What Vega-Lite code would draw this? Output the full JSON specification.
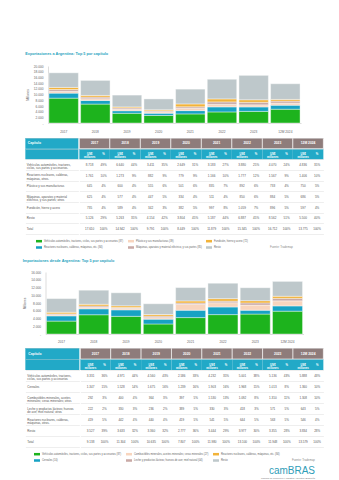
{
 "$schema": "https://vega.github.io/schema/vega-lite/v6.json",
 "padding": {"top": 52, "left": 22, "right": 20, "bottom": 0},
 "background": "white",
 "center": true,
 "spacing": 4,
 "resolve": {"scale": {"color": "independent"}, "legend": {"color": "independent"}},
 "datasets": {
  "years": [{"a":"2017","f1":"h1","f2":"h2"},{"a":"2018","f1":"h1","f2":"h2"},{"a":"2019","f1":"h1","f2":"h2"},{"a":"2020","f1":"h1","f2":"h2"},{"a":"2021","f1":"h1","f2":"h2"},{"a":"2022","f1":"h1","f2":"h2"},{"a":"2023","f1":"h1","f2":"h2"},{"a":"12M 2024","f1":"h1","f2":"h2"}],
  "expCat": [
   {"c":"Vehículos","n":1,"lab":"Vehículos automóviles, tractores,|ciclos, sus partes y accesorios.","leg":"Vehículos automóviles, tractores, ciclos, sus partes y accesorios (87)"},
   {"c":"Reactores","n":2,"lab":"Reactores nucleares, calderas,|máquinas, otros.","leg":"Reactores nucleares, calderas, máquinas, etc. (84)"},
   {"c":"Plásticos","n":3,"lab":"Plástico y sus manufacturas","leg":"Plástico y sus manufacturas (39)"},
   {"c":"Máquinas","n":4,"lab":"Máquinas, aparatos y material|eléctrico, y sus partes; otros","leg":"Máquinas, aparatos y material eléctrico, y sus partes (85)"},
   {"c":"Fundición","n":5,"lab":"Fundición, hierro y acero","leg":"Fundición, hierro y acero (72)"},
   {"c":"Resto","n":6,"lab":"Resto","leg":"Resto"},
   {"c":"Total","n":7,"lab":"Total","leg":"Total"}
  ],
  "impCat": [
   {"c":"Vehículos","n":1,"lab":"Vehículos automóviles, tractores,|ciclos, sus partes y accesorios","leg":"Vehículos automóviles, tractores, ciclos, sus partes y accesorios (87)"},
   {"c":"Cereales","n":2,"lab":"Cereales","leg":"Cereales (10)"},
   {"c":"Combustibles","n":3,"lab":"Combustibles minerales, aceites|minerales; ceras minerales; otros","leg":"Combustibles minerales, aceites minerales; ceras minerales (27)"},
   {"c":"Leche","n":4,"lab":"Leche y productos lácteos; huevos|de ave; miel natural; otros","leg":"Leche y productos lácteos; huevos de ave; miel natural (04)"},
   {"c":"Reactores","n":5,"lab":"Reactores nucleares, calderas,|máquinas, otros.","leg":"Reactores nucleares, calderas, máquinas, etc. (84)"},
   {"c":"Resto","n":6,"lab":"Resto","leg":"Resto"},
   {"c":"Total","n":7,"lab":"Total","leg":"Total"}
  ],
  "exp": [
   {"a":"2017","c":"Vehículos","usd":8718,"pct":0.49},{"a":"2017","c":"Reactores","usd":1761,"pct":0.10},{"a":"2017","c":"Plásticos","usd":645,"pct":0.04},{"a":"2017","c":"Máquinas","usd":625,"pct":0.04},{"a":"2017","c":"Fundición","usd":735,"pct":0.04},{"a":"2017","c":"Resto","usd":5126,"pct":0.29},{"a":"2017","c":"Total","usd":17610,"pct":1},
   {"a":"2018","c":"Vehículos","usd":6640,"pct":0.44},{"a":"2018","c":"Reactores","usd":1273,"pct":0.09},{"a":"2018","c":"Plásticos","usd":600,"pct":0.04},{"a":"2018","c":"Máquinas","usd":577,"pct":0.04},{"a":"2018","c":"Fundición","usd":589,"pct":0.04},{"a":"2018","c":"Resto","usd":5263,"pct":0.35},{"a":"2018","c":"Total","usd":14942,"pct":1},
   {"a":"2019","c":"Vehículos","usd":3411,"pct":0.35},{"a":"2019","c":"Reactores","usd":882,"pct":0.09},{"a":"2019","c":"Plásticos","usd":555,"pct":0.06},{"a":"2019","c":"Máquinas","usd":447,"pct":0.05},{"a":"2019","c":"Fundición","usd":342,"pct":0.03},{"a":"2019","c":"Resto","usd":4154,"pct":0.42},{"a":"2019","c":"Total","usd":9791,"pct":1},
   {"a":"2020","c":"Vehículos","usd":2649,"pct":0.31},{"a":"2020","c":"Reactores","usd":779,"pct":0.09},{"a":"2020","c":"Plásticos","usd":501,"pct":0.06},{"a":"2020","c":"Máquinas","usd":334,"pct":0.04},{"a":"2020","c":"Fundición","usd":382,"pct":0.05},{"a":"2020","c":"Resto","usd":3804,"pct":0.45},{"a":"2020","c":"Total","usd":8449,"pct":1},
   {"a":"2021","c":"Vehículos","usd":3183,"pct":0.27},{"a":"2021","c":"Reactores","usd":1166,"pct":0.10},{"a":"2021","c":"Plásticos","usd":835,"pct":0.07},{"a":"2021","c":"Máquinas","usd":511,"pct":0.04},{"a":"2021","c":"Fundición","usd":997,"pct":0.08},{"a":"2021","c":"Resto","usd":5187,"pct":0.44},{"a":"2021","c":"Total","usd":11879,"pct":1},
   {"a":"2022","c":"Vehículos","usd":3880,"pct":0.25},{"a":"2022","c":"Reactores","usd":1777,"pct":0.12},{"a":"2022","c":"Plásticos","usd":892,"pct":0.06},{"a":"2022","c":"Máquinas","usd":850,"pct":0.06},{"a":"2022","c":"Fundición","usd":1059,"pct":0.07},{"a":"2022","c":"Resto","usd":6887,"pct":0.45},{"a":"2022","c":"Total","usd":15345,"pct":1},
   {"a":"2023","c":"Vehículos","usd":4070,"pct":0.24},{"a":"2023","c":"Reactores","usd":1567,"pct":0.09},{"a":"2023","c":"Plásticos","usd":733,"pct":0.04},{"a":"2023","c":"Máquinas","usd":884,"pct":0.05},{"a":"2023","c":"Fundición","usd":896,"pct":0.05},{"a":"2023","c":"Resto","usd":8562,"pct":0.51},{"a":"2023","c":"Total","usd":16712,"pct":1},
   {"a":"12M 2024","c":"Vehículos","usd":4836,"pct":0.35},{"a":"12M 2024","c":"Reactores","usd":1406,"pct":0.10},{"a":"12M 2024","c":"Plásticos","usd":750,"pct":0.05},{"a":"12M 2024","c":"Máquinas","usd":686,"pct":0.05},{"a":"12M 2024","c":"Fundición","usd":597,"pct":0.04},{"a":"12M 2024","c":"Resto","usd":5500,"pct":0.40},{"a":"12M 2024","c":"Total","usd":13775,"pct":1}
  ],
  "imp": [
   {"a":"2017","c":"Vehículos","usd":3331,"pct":0.36},{"a":"2017","c":"Cereales","usd":1347,"pct":0.15},{"a":"2017","c":"Combustibles","usd":292,"pct":0.03},{"a":"2017","c":"Leche","usd":222,"pct":0.02},{"a":"2017","c":"Reactores","usd":419,"pct":0.05},{"a":"2017","c":"Resto","usd":3527,"pct":0.39},{"a":"2017","c":"Total","usd":9138,"pct":1},
   {"a":"2018","c":"Vehículos","usd":4971,"pct":0.44},{"a":"2018","c":"Cereales","usd":1528,"pct":0.14},{"a":"2018","c":"Combustibles","usd":400,"pct":0.04},{"a":"2018","c":"Leche","usd":330,"pct":0.03},{"a":"2018","c":"Reactores","usd":442,"pct":0.04},{"a":"2018","c":"Resto","usd":3633,"pct":0.32},{"a":"2018","c":"Total","usd":11304,"pct":1},
   {"a":"2019","c":"Vehículos","usd":4560,"pct":0.43},{"a":"2019","c":"Cereales","usd":1675,"pct":0.16},{"a":"2019","c":"Combustibles","usd":364,"pct":0.03},{"a":"2019","c":"Leche","usd":236,"pct":0.02},{"a":"2019","c":"Reactores","usd":440,"pct":0.04},{"a":"2019","c":"Resto","usd":3360,"pct":0.32},{"a":"2019","c":"Total","usd":10635,"pct":1},
   {"a":"2020","c":"Vehículos","usd":2586,"pct":0.33},{"a":"2020","c":"Cereales","usd":1239,"pct":0.16},{"a":"2020","c":"Combustibles","usd":397,"pct":0.05},{"a":"2020","c":"Leche","usd":389,"pct":0.05},{"a":"2020","c":"Reactores","usd":419,"pct":0.05},{"a":"2020","c":"Resto","usd":2777,"pct":0.36},{"a":"2020","c":"Total","usd":7807,"pct":1},
   {"a":"2021","c":"Vehículos","usd":4232,"pct":0.35},{"a":"2021","c":"Cereales","usd":1903,"pct":0.16},{"a":"2021","c":"Combustibles","usd":1530,"pct":0.13},{"a":"2021","c":"Leche","usd":330,"pct":0.03},{"a":"2021","c":"Reactores","usd":541,"pct":0.05},{"a":"2021","c":"Resto","usd":3444,"pct":0.29},{"a":"2021","c":"Total","usd":11980,"pct":1},
   {"a":"2022","c":"Vehículos","usd":5001,"pct":0.38},{"a":"2022","c":"Cereales","usd":1968,"pct":0.15},{"a":"2022","c":"Combustibles","usd":1092,"pct":0.08},{"a":"2022","c":"Leche","usd":418,"pct":0.03},{"a":"2022","c":"Reactores","usd":644,"pct":0.05},{"a":"2022","c":"Resto","usd":3977,"pct":0.30},{"a":"2022","c":"Total","usd":13100,"pct":1},
   {"a":"2023","c":"Vehículos","usd":5136,"pct":0.43},{"a":"2023","c":"Cereales","usd":1013,"pct":0.08},{"a":"2023","c":"Combustibles","usd":1310,"pct":0.11},{"a":"2023","c":"Leche","usd":571,"pct":0.05},{"a":"2023","c":"Reactores","usd":563,"pct":0.05},{"a":"2023","c":"Resto","usd":3355,"pct":0.28},{"a":"2023","c":"Total","usd":11948,"pct":1},
   {"a":"12M 2024","c":"Vehículos","usd":5888,"pct":0.43},{"a":"12M 2024","c":"Cereales","usd":1360,"pct":0.10},{"a":"12M 2024","c":"Combustibles","usd":1308,"pct":0.10},{"a":"12M 2024","c":"Leche","usd":643,"pct":0.05},{"a":"12M 2024","c":"Reactores","usd":546,"pct":0.04},{"a":"12M 2024","c":"Resto","usd":3834,"pct":0.28},{"a":"12M 2024","c":"Total","usd":13579,"pct":1}
  ]
 },
 "vconcat": [
  {
   "title": {"text": "Exportaciones a Argentina: Top 5 por capítulo", "anchor": "start", "fontSize": 3.8, "color": "#27A3BE", "fontWeight": "bold", "offset": 8},
   "width": 253, "height": 57,
   "data": {"name": "exp"},
   "transform": [{"filter": "datum.c !== 'Total'"}, {"lookup": "c", "from": {"data": {"name": "expCat"}, "key": "c", "fields": ["n"]}}],
   "mark": {"type": "bar", "stroke": "white", "strokeWidth": 0.4},
   "encoding": {
    "x": {"field": "a", "type": "nominal", "sort": ["2017","2018","2019","2020","2021","2022","2023","12M 2024"], "scale": {"paddingInner": 0.07, "paddingOuter": 0.03}, "axis": {"title": null, "labelFontSize": 3.2, "labelColor": "#666", "ticks": false, "domainColor": "#bbb", "domainWidth": 0.5, "labelPadding": 6, "labelAngle": 0}},
    "y": {"field": "usd", "type": "quantitative", "stack": "zero", "scale": {"domain": [0, 20000], "nice": false}, "axis": {"values": [0,2000,4000,6000,8000,10000,12000,14000,16000,18000,20000], "format": ",d", "labelExpr": "datum.value === 0 ? '-' : datum.label", "labelFontSize": 3.2, "labelColor": "#666", "grid": false, "ticks": false, "domainColor": "#bbb", "domainWidth": 0.5, "title": "Millones", "titleFontSize": 3.2, "titleFontWeight": "normal", "titleColor": "#666", "labelPadding": 5, "titlePadding": 4}},
    "color": {"field": "c", "type": "nominal", "scale": {"domain": ["Vehículos","Reactores","Plásticos","Máquinas","Fundición","Resto"], "range": ["#1DB31D","#17A2C4","#F8D5BE","#C9A9A6","#F2B33A","#BEC8CB"]}, "legend": null},
    "order": {"field": "n", "type": "quantitative", "sort": "ascending"}
   }
  },
  {
   "spacing": 0,
   "hconcat": [
    {
     "width": 53, "height": 96,
     "layer": [
      {"data": {"values": [{"f": "h1"}, {"f": "h2"}]}, "mark": {"type": "rect", "color": "#22A9C7"},
       "encoding": {"y": {"field": "f", "type": "nominal", "scale": {"domain": ["h1","h2","Vehículos","Reactores","Plásticos","Máquinas","Fundición","Resto","Total"], "paddingInner": 0, "paddingOuter": 0}, "axis": {"grid": true, "tickBand": "extent", "gridColor": "#d5d5d5", "gridWidth": 0.4, "labels": false, "ticks": false, "domain": false, "title": null}}}},
      {"data": {"values": [{"f": "h1", "t": "Capítulo"}]}, "mark": {"type": "text", "align": "left", "dx": -24, "color": "white", "fontWeight": "bold", "fontSize": 3.3},
       "encoding": {"y": {"field": "f", "type": "nominal"}, "text": {"field": "t"}}},
      {"data": {"name": "expCat"}, "mark": {"type": "text", "align": "left", "dx": -25, "fontSize": 3, "color": "#555", "lineBreak": "|", "lineHeight": 3.6},
       "encoding": {"y": {"field": "c", "type": "nominal"}, "text": {"field": "lab"}}}
     ]
    },
    {
     "width": 244, "height": 96,
     "layer": [
      {"data": {"name": "years"}, "mark": {"type": "rect", "color": "#22A9C7"},
       "encoding": {"x": {"field": "a", "type": "nominal", "sort": ["2017","2018","2019","2020","2021","2022","2023","12M 2024"], "scale": {"paddingInner": 0, "paddingOuter": 0}, "axis": null}, "y": {"field": "f2", "type": "nominal", "scale": {"domain": ["h1","h2","Vehículos","Reactores","Plásticos","Máquinas","Fundición","Resto","Total"], "paddingInner": 0, "paddingOuter": 0}, "axis": {"grid": true, "tickBand": "extent", "gridColor": "#d5d5d5", "gridWidth": 0.4, "labels": false, "ticks": false, "domain": false, "title": null}}}},
      {"data": {"name": "years"}, "mark": {"type": "rect", "color": "#8E7C7B", "stroke": "white", "strokeWidth": 0.6},
       "encoding": {"x": {"field": "a", "type": "nominal", "sort": ["2017","2018","2019","2020","2021","2022","2023","12M 2024"], "axis": null}, "y": {"field": "f1", "type": "nominal"}}},
      {"data": {"name": "years"}, "mark": {"type": "text", "color": "white", "fontWeight": "bold", "fontSize": 3.3},
       "encoding": {"x": {"field": "a", "type": "nominal", "sort": ["2017","2018","2019","2020","2021","2022","2023","12M 2024"], "axis": null}, "y": {"field": "f1", "type": "nominal"}, "text": {"field": "a"}}},
      {"data": {"name": "years"}, "mark": {"type": "text", "color": "white", "fontWeight": "bold", "fontSize": 2.8, "lineBreak": "|", "lineHeight": 3.2, "dx": -5},
       "encoding": {"x": {"field": "a", "type": "nominal", "sort": ["2017","2018","2019","2020","2021","2022","2023","12M 2024"], "axis": null}, "y": {"field": "f2", "type": "nominal"}, "text": {"value": "US$|millones"}}},
      {"data": {"name": "years"}, "mark": {"type": "text", "color": "white", "fontWeight": "bold", "fontSize": 2.8, "dx": 9},
       "encoding": {"x": {"field": "a", "type": "nominal", "sort": ["2017","2018","2019","2020","2021","2022","2023","12M 2024"], "axis": null}, "y": {"field": "f2", "type": "nominal"}, "text": {"value": "%"}}},
      {"data": {"name": "exp"}, "mark": {"type": "text", "color": "#555", "fontSize": 3, "dx": -5},
       "encoding": {"x": {"field": "a", "type": "nominal", "sort": ["2017","2018","2019","2020","2021","2022","2023","12M 2024"], "axis": null}, "y": {"field": "c", "type": "nominal"}, "text": {"field": "usd", "type": "quantitative", "format": ",d"}}},
      {"data": {"name": "exp"}, "mark": {"type": "text", "color": "#555", "fontSize": 3, "dx": 9},
       "encoding": {"x": {"field": "a", "type": "nominal", "sort": ["2017","2018","2019","2020","2021","2022","2023","12M 2024"], "axis": null}, "y": {"field": "c", "type": "nominal"}, "text": {"field": "pct", "type": "quantitative", "format": ".0%"}}}
     ]
    }
   ]
  },
  {
   "width": 277, "height": 3,
   "data": {"name": "expCat"},
   "transform": [{"filter": "datum.c !== 'Total'"}],
   "mark": {"type": "square", "opacity": 0},
   "encoding": {"color": {"field": "leg", "type": "nominal",
     "scale": {"domain": ["Vehículos automóviles, tractores, ciclos, sus partes y accesorios (87)", "Plástico y sus manufacturas (39)", "Fundición, hierro y acero (72)", "Reactores nucleares, calderas, máquinas, etc. (84)", "Máquinas, aparatos y material eléctrico, y sus partes (85)", "Resto"],
               "range": ["#1DB31D", "#F8D5BE", "#F2B33A", "#17A2C4", "#C9A9A6", "#BEC8CB"]},
     "legend": {"orient": "top", "columns": 3, "title": "Fuente: Trademap", "titleOrient": "right", "titleAnchor": "end", "titleFontSize": 2.8, "titleFontWeight": "normal", "titleColor": "#888", "titlePadding": 22, "symbolType": "M-1,-0.42H1V0.42H-1Z", "symbolSize": 36, "symbolOpacity": 1, "symbolStrokeWidth": 0, "labelFontSize": 2.6, "labelColor": "#666", "labelLimit": 200, "gridAlign": "each", "columnPadding": 4, "rowPadding": 1.5, "labelOffset": 2, "offset": 0, "padding": 0}}}
  },
  {
   "title": {"text": "Importaciones desde Argentina: Top 5 por capítulo", "anchor": "start", "fontSize": 3.8, "color": "#27A3BE", "fontWeight": "bold", "offset": 7},
   "width": 258, "height": 62,
   "data": {"name": "imp"},
   "transform": [{"filter": "datum.c !== 'Total'"}, {"lookup": "c", "from": {"data": {"name": "impCat"}, "key": "c", "fields": ["n"]}}],
   "mark": {"type": "bar", "stroke": "white", "strokeWidth": 0.4},
   "encoding": {
    "x": {"field": "a", "type": "nominal", "sort": ["2017","2018","2019","2020","2021","2022","2023","12M 2024"], "scale": {"paddingInner": 0.07, "paddingOuter": 0.03}, "axis": {"title": null, "labelFontSize": 3.2, "labelColor": "#666", "ticks": false, "domainColor": "#bbb", "domainWidth": 0.5, "labelPadding": 5, "labelAngle": 0}},
    "y": {"field": "usd", "type": "quantitative", "stack": "zero", "scale": {"domain": [0, 16000], "nice": false}, "axis": {"values": [0,2000,4000,6000,8000,10000,12000,14000,16000], "format": ",d", "labelExpr": "datum.value === 0 ? '-' : datum.label", "labelFontSize": 3.2, "labelColor": "#666", "grid": false, "ticks": false, "domainColor": "#bbb", "domainWidth": 0.5, "title": "Millones", "titleFontSize": 3.2, "titleFontWeight": "normal", "titleColor": "#666", "labelPadding": 5, "titlePadding": 4}},
    "color": {"field": "c", "type": "nominal", "scale": {"domain": ["Vehículos","Cereales","Combustibles","Leche","Reactores","Resto"], "range": ["#1DB31D","#17A2C4","#F8D5BE","#C9A9A6","#F2B33A","#BEC8CB"]}, "legend": null},
    "order": {"field": "n", "type": "quantitative", "sort": "ascending"}
   }
  },
  {
   "spacing": 0,
   "hconcat": [
    {
     "width": 54, "height": 99,
     "layer": [
      {"data": {"values": [{"f": "h1"}, {"f": "h2"}]}, "mark": {"type": "rect", "color": "#22A9C7"},
       "encoding": {"y": {"field": "f", "type": "nominal", "scale": {"domain": ["h1","h2","Vehículos","Cereales","Combustibles","Leche","Reactores","Resto","Total"], "paddingInner": 0, "paddingOuter": 0}, "axis": {"grid": true, "tickBand": "extent", "gridColor": "#d5d5d5", "gridWidth": 0.4, "labels": false, "ticks": false, "domain": false, "title": null}}}},
      {"data": {"values": [{"f": "h1", "t": "Capítulo"}]}, "mark": {"type": "text", "align": "left", "dx": -24, "color": "white", "fontWeight": "bold", "fontSize": 3.3},
       "encoding": {"y": {"field": "f", "type": "nominal"}, "text": {"field": "t"}}},
      {"data": {"name": "impCat"}, "mark": {"type": "text", "align": "left", "dx": -25, "fontSize": 3, "color": "#555", "lineBreak": "|", "lineHeight": 3.6},
       "encoding": {"y": {"field": "c", "type": "nominal"}, "text": {"field": "lab"}}}
     ]
    },
    {
     "width": 243, "height": 99,
     "layer": [
      {"data": {"name": "years"}, "mark": {"type": "rect", "color": "#22A9C7"},
       "encoding": {"x": {"field": "a", "type": "nominal", "sort": ["2017","2018","2019","2020","2021","2022","2023","12M 2024"], "scale": {"paddingInner": 0, "paddingOuter": 0}, "axis": null}, "y": {"field": "f2", "type": "nominal", "scale": {"domain": ["h1","h2","Vehículos","Cereales","Combustibles","Leche","Reactores","Resto","Total"], "paddingInner": 0, "paddingOuter": 0}, "axis": {"grid": true, "tickBand": "extent", "gridColor": "#d5d5d5", "gridWidth": 0.4, "labels": false, "ticks": false, "domain": false, "title": null}}}},
      {"data": {"name": "years"}, "mark": {"type": "rect", "color": "#8E7C7B", "stroke": "white", "strokeWidth": 0.6},
       "encoding": {"x": {"field": "a", "type": "nominal", "sort": ["2017","2018","2019","2020","2021","2022","2023","12M 2024"], "axis": null}, "y": {"field": "f1", "type": "nominal"}}},
      {"data": {"name": "years"}, "mark": {"type": "text", "color": "white", "fontWeight": "bold", "fontSize": 3.3},
       "encoding": {"x": {"field": "a", "type": "nominal", "sort": ["2017","2018","2019","2020","2021","2022","2023","12M 2024"], "axis": null}, "y": {"field": "f1", "type": "nominal"}, "text": {"field": "a"}}},
      {"data": {"name": "years"}, "mark": {"type": "text", "color": "white", "fontWeight": "bold", "fontSize": 2.8, "lineBreak": "|", "lineHeight": 3.2, "dx": -5},
       "encoding": {"x": {"field": "a", "type": "nominal", "sort": ["2017","2018","2019","2020","2021","2022","2023","12M 2024"], "axis": null}, "y": {"field": "f2", "type": "nominal"}, "text": {"value": "US$|millones"}}},
      {"data": {"name": "years"}, "mark": {"type": "text", "color": "white", "fontWeight": "bold", "fontSize": 2.8, "dx": 9},
       "encoding": {"x": {"field": "a", "type": "nominal", "sort": ["2017","2018","2019","2020","2021","2022","2023","12M 2024"], "axis": null}, "y": {"field": "f2", "type": "nominal"}, "text": {"value": "%"}}},
      {"data": {"name": "imp"}, "mark": {"type": "text", "color": "#555", "fontSize": 3, "dx": -5},
       "encoding": {"x": {"field": "a", "type": "nominal", "sort": ["2017","2018","2019","2020","2021","2022","2023","12M 2024"], "axis": null}, "y": {"field": "c", "type": "nominal"}, "text": {"field": "usd", "type": "quantitative", "format": ",d"}}},
      {"data": {"name": "imp"}, "mark": {"type": "text", "color": "#555", "fontSize": 3, "dx": 9},
       "encoding": {"x": {"field": "a", "type": "nominal", "sort": ["2017","2018","2019","2020","2021","2022","2023","12M 2024"], "axis": null}, "y": {"field": "c", "type": "nominal"}, "text": {"field": "pct", "type": "quantitative", "format": ".0%"}}}
     ]
    }
   ]
  },
  {
   "width": 277, "height": 1,
   "title": {"text": "camBRAS", "orient": "bottom", "anchor": "end", "fontSize": 10, "color": "#2F9DB8", "fontWeight": "normal", "subtitle": "Cámara de Comercio e Industria Argentino-Brasileña", "subtitleFontSize": 2.3, "subtitleColor": "#777", "offset": 0, "subtitlePadding": 0.5},
   "data": {"name": "impCat"},
   "transform": [{"filter": "datum.c !== 'Total'"}],
   "mark": {"type": "square", "opacity": 0},
   "encoding": {"color": {"field": "leg", "type": "nominal",
     "scale": {"domain": ["Vehículos automóviles, tractores, ciclos, sus partes y accesorios (87)", "Combustibles minerales, aceites minerales; ceras minerales (27)", "Reactores nucleares, calderas, máquinas, etc. (84)", "Cereales (10)", "Leche y productos lácteos; huevos de ave; miel natural (04)", "Resto"],
               "range": ["#1DB31D", "#F8D5BE", "#F2B33A", "#17A2C4", "#C9A9A6", "#BEC8CB"]},
     "legend": {"orient": "top", "columns": 3, "title": "Fuente: Trademap", "titleOrient": "right", "titleAnchor": "end", "titleFontSize": 2.8, "titleFontWeight": "normal", "titleColor": "#888", "titlePadding": 12, "symbolType": "M-1,-0.42H1V0.42H-1Z", "symbolSize": 36, "symbolOpacity": 1, "symbolStrokeWidth": 0, "labelFontSize": 2.6, "labelColor": "#666", "labelLimit": 200, "gridAlign": "each", "columnPadding": 4, "rowPadding": 1.5, "labelOffset": 2, "offset": 0, "padding": 0}}}
  }
 ],
 "config": {
  "font": "Liberation Sans",
  "view": {"stroke": null},
  "locale": {"number": {"decimal": ",", "thousands": ".", "grouping": [3], "currency": ["$", ""]}}
 }
}
